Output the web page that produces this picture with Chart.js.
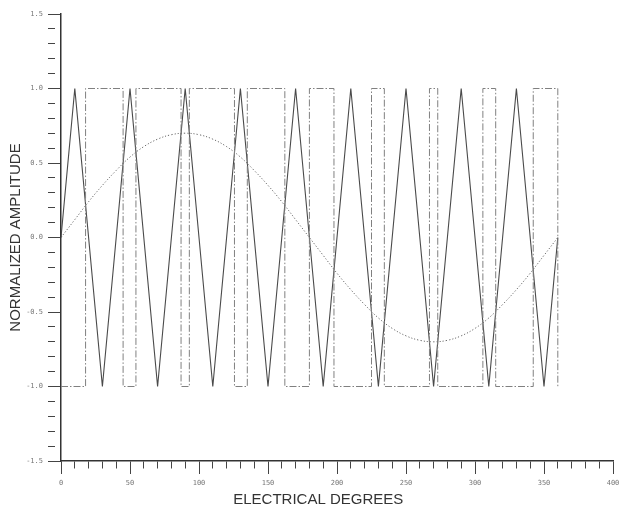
<!DOCTYPE html>
<html>
<head>
<meta charset="utf-8">
<script src="https://cdn.jsdelivr.net/npm/chart.js@4/dist/chart.umd.min.js"></script>
<style>
  html, body { margin: 0; padding: 0; background: #fff; }
  #wrap { width: 619px; height: 508px; }
</style>
</head>
<body>
<div id="wrap"><canvas id="chart" width="619" height="508"></canvas></div>
<script>
// Triangular carrier (vertices)
const carrierDeg = [0, 10, 30, 50, 70, 90, 110, 130, 150, 170, 190, 210, 230, 250, 270, 290, 310, 330, 350, 360];
const carrierAmp = [0, 1, -1, 1, -1, 1, -1, 1, -1, 1, -1, 1, -1, 1, -1, 1, -1, 1, -1, 0];

// Reference sine (read every 10 degrees)
const sineDeg = [0, 10, 20, 30, 40, 50, 60, 70, 80, 90, 100, 110, 120, 130, 140, 150, 160, 170, 180,
                 190, 200, 210, 220, 230, 240, 250, 260, 270, 280, 290, 300, 310, 320, 330, 340, 350, 360];
const sineAmp = [0, 0.12, 0.24, 0.35, 0.45, 0.54, 0.61, 0.66, 0.69, 0.70, 0.69, 0.66, 0.61, 0.54, 0.45, 0.35, 0.24, 0.12, 0,
                 -0.12, -0.24, -0.35, -0.45, -0.54, -0.61, -0.66, -0.69, -0.70, -0.69, -0.66, -0.61, -0.54, -0.45, -0.35, -0.24, -0.12, 0];

// PWM output: switching angles and the level reached at each
const pwmDeg = [0, 17.8, 45, 54.3, 87, 93, 125.7, 135, 162.2, 180, 197.8, 225, 234.3, 267, 273, 305.7, 315, 342.2, 360];
const pwmLevel = [-1, 1, -1, 1, -1, 1, -1, 1, -1, 1, -1, 1, -1, 1, -1, 1, -1, 1, -1];

const toPoints = (xs, ys) => xs.map((x, i) => ({ x: x, y: ys[i] }));

const tickFont = { family: 'DejaVu Sans Mono', size: 7 };
const titleFont = { family: 'Liberation Sans', size: 15, lineHeight: 1 };

function isMajorX(v) { return Math.round(v) % 50 === 0; }
function isMajorY(v) { return Math.round(v * 10) % 5 === 0; }

new Chart(document.getElementById('chart'), {
    type: 'line',
    data: {
        datasets: [
            {
                label: 'PWM',
                data: toPoints(pwmDeg, pwmLevel),
                stepped: true,
                borderColor: '#808080',
                borderWidth: 1,
                borderDash: [7, 2, 1.5, 2],
                pointRadius: 0,
                fill: false
            },
            {
                label: 'Carrier',
                data: toPoints(carrierDeg, carrierAmp),
                borderColor: '#4a4a4a',
                borderWidth: 1.1,
                tension: 0,
                pointRadius: 0,
                fill: false
            },
            {
                label: 'Sine',
                data: toPoints(sineDeg, sineAmp),
                borderColor: '#666',
                borderWidth: 1,
                borderDash: [1.2, 2],
                tension: 0.4,
                pointRadius: 0,
                fill: false
            }
        ]
    },
    options: {
        responsive: false,
        animation: false,
        layout: {
            padding: { top: 14, right: 6, bottom: 0, left: 0 }
        },
        plugins: {
            legend: { display: false },
            tooltip: { enabled: false }
        },
        scales: {
            x: {
                type: 'linear',
                min: 0,
                max: 400,
                afterFit: function(scale) {
                    scale.height = 47;
                    scale.paddingRight = 0;
                    scale.paddingLeft = 0;
                },
                border: { color: '#333', width: 1.5 },
                grid: {
                    drawOnChartArea: false,
                    tickLength: 13,
                    tickColor: '#444',
                    tickBorderDash: function(ctx) {
                        return isMajorX(ctx.tick.value) ? [] : [7, 40];
                    }
                },
                ticks: {
                    stepSize: 10,
                    autoSkip: false,
                    maxRotation: 0,
                    padding: 5,
                    color: '#777',
                    font: tickFont,
                    callback: function(v) { return isMajorX(v) ? String(v) : ''; }
                },
                title: {
                    display: true,
                    text: 'ELECTRICAL DEGREES         ',
                    color: '#333',
                    font: titleFont,
                    padding: { top: 0, bottom: 0.5 }
                }
            },
            y: {
                min: -1.5,
                max: 1.5,
                afterFit: function(scale) { scale.width = 61; },
                border: { color: '#333', width: 1.5 },
                grid: {
                    drawOnChartArea: false,
                    tickLength: 13,
                    tickColor: '#444',
                    tickBorderDash: function(ctx) {
                        return isMajorY(ctx.tick.value) ? [] : [7, 40];
                    }
                },
                ticks: {
                    stepSize: 0.1,
                    autoSkip: false,
                    padding: 5,
                    color: '#777',
                    font: tickFont,
                    callback: function(v) { return isMajorY(v) ? v.toFixed(1) : ''; }
                },
                title: {
                    display: true,
                    text: 'NORMALIZED AMPLITUDE',
                    color: '#333',
                    font: titleFont,
                    padding: { top: 8, bottom: 0 }
                }
            }
        }
    }
});
</script>
</body>
</html>
